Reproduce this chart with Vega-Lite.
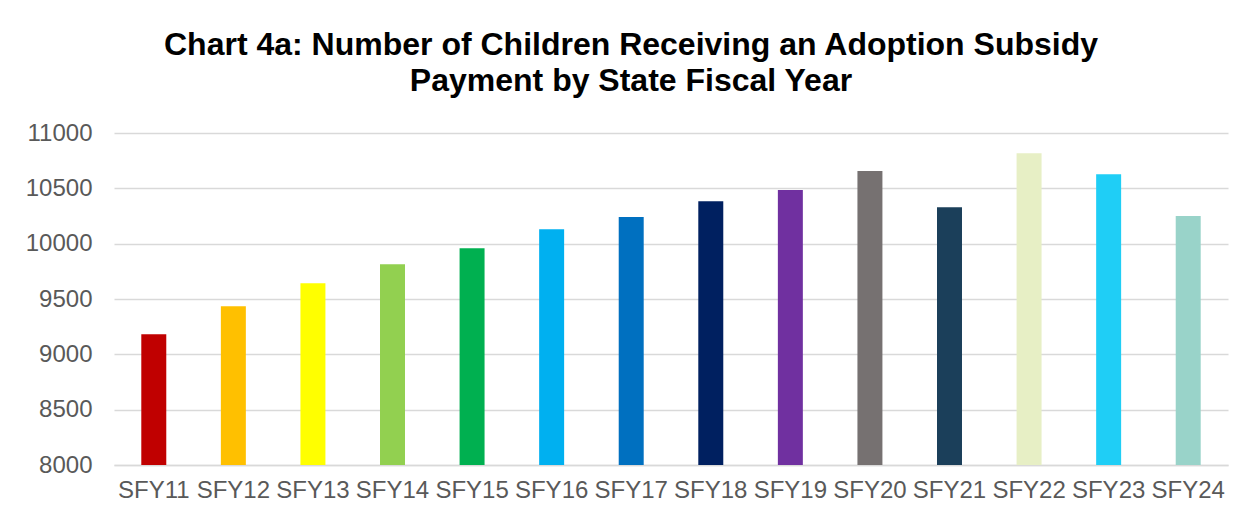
{
  "$schema": "https://vega.github.io/schema/vega-lite/v6.json",
  "autosize": {"type": "none"},
  "width": 1114,
  "height": 332,
  "padding": {"left": 114, "top": 133, "right": 26, "bottom": 56},
  "background": "white",
  "title": {
    "text": ["Chart 4a: Number of Children Receiving an Adoption Subsidy", "Payment by State Fiscal Year"],
    "font": "Liberation Sans",
    "fontSize": 32,
    "fontWeight": "bold",
    "color": "#000000",
    "lineHeight": 36,
    "anchor": "middle",
    "dx": -40,
    "offset": 23
  },
  "data": {
    "values": [
      {"year": "SFY11", "children": 9182, "color": "#C00000"},
      {"year": "SFY12", "children": 9435, "color": "#FFC000"},
      {"year": "SFY13", "children": 9643, "color": "#FFFF00"},
      {"year": "SFY14", "children": 9815, "color": "#92D050"},
      {"year": "SFY15", "children": 9959, "color": "#00B050"},
      {"year": "SFY16", "children": 10131, "color": "#00B0F0"},
      {"year": "SFY17", "children": 10240, "color": "#0070C0"},
      {"year": "SFY18", "children": 10384, "color": "#002060"},
      {"year": "SFY19", "children": 10484, "color": "#7030A0"},
      {"year": "SFY20", "children": 10656, "color": "#767171"},
      {"year": "SFY21", "children": 10330, "color": "#1B3F5A"},
      {"year": "SFY22", "children": 10818, "color": "#E7EFC5"},
      {"year": "SFY23", "children": 10628, "color": "#1FCEF6"},
      {"year": "SFY24", "children": 10249, "color": "#99D3C9"}
    ]
  },
  "mark": {"type": "bar", "clip": true},
  "encoding": {
    "x": {
      "field": "year",
      "type": "nominal",
      "sort": null,
      "scale": {"paddingInner": 0.686, "paddingOuter": 0.343},
      "axis": {
        "title": null,
        "labelAngle": 0,
        "labelFont": "Liberation Sans",
        "labelFontSize": 24,
        "labelColor": "#595959",
        "labelPadding": 13,
        "ticks": false,
        "domainColor": "#D9D9D9",
        "domainWidth": 1.5
      }
    },
    "y": {
      "field": "children",
      "type": "quantitative",
      "scale": {"domain": [8000, 11000], "nice": false, "zero": false},
      "axis": {
        "title": null,
        "values": [8000, 8500, 9000, 9500, 10000, 10500, 11000],
        "format": "d",
        "labelFont": "Liberation Sans",
        "labelFontSize": 24,
        "labelColor": "#595959",
        "labelPadding": 22,
        "ticks": false,
        "domain": false,
        "grid": true,
        "gridColor": "#D9D9D9",
        "gridWidth": 1.5
      }
    },
    "color": {"field": "color", "type": "nominal", "scale": null, "legend": null}
  },
  "config": {"view": {"stroke": null}}
}
